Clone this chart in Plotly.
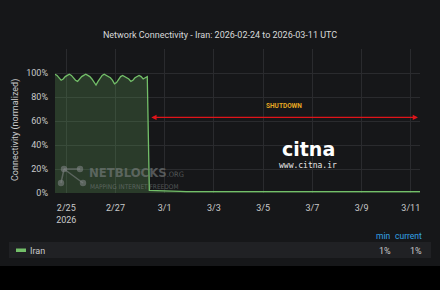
import pandas as pd
import plotly.graph_objects as go

# ---------------- data ----------------
pre_start = "2026-02-24 13:00"
pre_values = [99, 98, 96, 94, 95, 97, 98, 99, 98, 96, 94, 93, 95, 97, 98, 99,
              98, 97, 95, 92, 90, 93, 96, 98, 99, 98, 97, 96, 94, 91, 92, 95,
              97, 98, 97, 96, 95, 93, 94, 96, 97, 98, 97, 95, 96, 97]
post_start = "2026-02-28 09:00"
post_values = [2.2, 1.9, 1.7, 1.5, 1.4, 1.3, 1.2, 1.2, 1.1, 1.0, 1.1, 1.2,
               1.0, 0.9, 1.0, 1.1, 1.0, 1.2, 1.1, 1.0, 1.0, 1.1, 0.9, 1.0,
               1.1, 1.0, 1.0, 1.1, 1.2, 1.0, 0.9, 1.0, 1.1, 1.0, 1.0, 1.1,
               1.0, 1.2, 1.1, 1.0, 1.1, 1.2, 1.3, 1.2, 1.2]
series_name = "Iran"
tick_dates = ["2026-02-25", "2026-02-27", "2026-03-01", "2026-03-03",
              "2026-03-05", "2026-03-07", "2026-03-09", "2026-03-11"]
tick_labels = ["2/25<br>2026", "2/27", "3/1", "3/3", "3/5", "3/7", "3/9", "3/11"]
y_ticks = [0, 20, 40, 60, 80, 100, 120]
y_labels = ["0%", "20%", "40%", "60%", "80%", "100%", ""]
title = "Network Connectivity - Iran: 2026-02-24 to 2026-03-11 UTC"
shutdown_start = "2026-02-28 09:30"
shutdown_end = "2026-03-11 07:00"
shutdown_level = 63
shutdown_label_x = "2026-03-05 20:00"
shutdown_label_y = 72.5

times = list(pd.date_range(pre_start, periods=len(pre_values), freq="2h")) + \
        list(pd.date_range(post_start, periods=len(post_values), freq="6h"))
values = pre_values + post_values

# ---------------- layout helpers ----------------
W, H = 440, 290
ML, MR, MT, MB = 55, 20, 49, 97
PW, PH = W - ML - MR, H - MT - MB


def px(x):
    return (x - ML) / PW


def py(y):
    return (H - MB - y) / PH


BG = "#161719"
GREEN = "#73bf69"
TXT = "#c8c9ca"
FONT = "Roboto, Inter, sans-serif"
COND = "DejaVu Sans Condensed, DejaVu Sans, sans-serif"

fig = go.Figure()
fig.add_trace(go.Scatter(
    x=times, y=values, mode="lines", name=series_name,
    line=dict(color=GREEN, width=1.3),
    fill="tozeroy", fillcolor="rgba(115,191,105,0.22)",
    hoverinfo="skip", showlegend=False,
))

shapes = []
annotations = []

# bottom black band
shapes.append(dict(type="rect", xref="paper", yref="paper",
                   x0=px(-5), x1=px(W + 5), y0=py(266), y1=py(H + 5),
                   fillcolor="#000000", line=dict(width=0), layer="below"))
# legend bar background
shapes.append(dict(type="rect", xref="paper", yref="paper",
                   x0=px(9), x1=px(431), y0=py(258), y1=py(242),
                   fillcolor="#202124", line=dict(width=0), layer="below"))
# legend swatch
shapes.append(dict(type="rect", xref="paper", yref="paper",
                   x0=px(16), x1=px(26), y0=py(252), y1=py(248.5),
                   fillcolor=GREEN, line=dict(width=0)))

# NetBlocks watermark icon
wm = "rgba(125,130,130,0.6)"
nodes = [(64, 169), (80, 169), (61, 183), (83, 183)]
for (a, b) in [(0, 1), (0, 2), (0, 3)]:
    shapes.append(dict(type="line", xref="paper", yref="paper",
                       x0=px(nodes[a][0]), y0=py(nodes[a][1]),
                       x1=px(nodes[b][0]), y1=py(nodes[b][1]),
                       line=dict(color=wm, width=1.5)))
for (cx, cy) in nodes:
    r = 3.2
    shapes.append(dict(type="circle", xref="paper", yref="paper",
                       x0=px(cx - r), x1=px(cx + r), y0=py(cy + r), y1=py(cy - r),
                       fillcolor=wm, line=dict(width=0)))

annotations.append(dict(text="<b>NETBLOCKS</b><span style='font-size:7.5px'>.ORG</span>",
                        xref="paper", yref="paper",
                        x=px(87), y=py(172), xanchor="left", yanchor="middle",
                        showarrow=False, font=dict(family=COND, size=13, color=wm)))
annotations.append(dict(text="MAPPING INTERNET FREEDOM", xref="paper", yref="paper",
                        x=px(88), y=py(186.5), xanchor="left", yanchor="middle",
                        showarrow=False, font=dict(family=COND, size=6.5, color=wm)))

# citna logo
annotations.append(dict(text="<b>citna</b>", xref="paper", yref="paper",
                        x=px(308), y=py(149), xanchor="center", yanchor="middle",
                        showarrow=False,
                        font=dict(family="DejaVu Sans, sans-serif", size=19, color="#ffffff")))
annotations.append(dict(text="www.citna.ir", xref="paper", yref="paper",
                        x=px(308), y=py(165), xanchor="center", yanchor="middle",
                        showarrow=False,
                        font=dict(family="DejaVu Sans Mono, monospace", size=8, color="#e8e8e8")))

# shutdown arrow + label
annotations.append(dict(x=shutdown_end, y=shutdown_level, ax=shutdown_start, ay=shutdown_level,
                        xref="x", yref="y", axref="x", ayref="y", text="",
                        showarrow=True, arrowhead=2, arrowside="end+start",
                        arrowsize=0.8, arrowwidth=1.3, arrowcolor="#e0141a"))
annotations.append(dict(x=shutdown_label_x, y=shutdown_label_y, xref="x", yref="y",
                        text="<b>SHUTDOWN</b>", showarrow=False,
                        font=dict(family=FONT, size=6.5, color="#e5a823")))

# y-axis title
annotations.append(dict(text="Connectivity (normalized)", xref="paper", yref="paper",
                        x=px(15), y=py(130), textangle=-90, showarrow=False,
                        xanchor="center", yanchor="middle",
                        font=dict(family=FONT, size=9, color=TXT)))

# legend texts
vmin = min(values)
vcur = values[-1]
annotations.append(dict(text=series_name, xref="paper", yref="paper",
                        x=px(28), y=py(250.5), xanchor="left", yanchor="middle",
                        showarrow=False, font=dict(family=FONT, size=9, color=TXT)))
for label, val, xr in [("min", vmin, 393), ("current", vcur, 424)]:
    annotations.append(dict(text=label, xref="paper", yref="paper",
                            x=px(xr), y=py(236), xanchor="right", yanchor="middle",
                            showarrow=False, font=dict(family=FONT, size=8.5, color="#33a2e5")))
    annotations.append(dict(text=f"{round(val)}%", xref="paper", yref="paper",
                            x=px(xr), y=py(250.5), xanchor="right", yanchor="middle",
                            showarrow=False, font=dict(family=FONT, size=9, color=TXT)))

fig.update_layout(
    width=W, height=H,
    margin=dict(l=ML, r=MR, t=MT, b=MB, pad=0),
    paper_bgcolor=BG, plot_bgcolor=BG,
    title=dict(text=title, x=0.5, xref="container", xanchor="center",
               y=1 - 35 / H, yref="container", yanchor="middle",
               font=dict(family=FONT, size=9, color="#d8d9da")),
    font=dict(family=FONT, color=TXT, size=9),
    shapes=shapes, annotations=annotations,
    showlegend=False,
    xaxis=dict(range=["2026-02-24 13:00", "2026-03-11 09:00"], type="date",
               tickvals=tick_dates, ticktext=tick_labels,
               showgrid=True, gridcolor="#2a2b2e", gridwidth=1,
               zeroline=False, showline=False, ticks="", ticklabelstandoff=8,
               tickfont=dict(size=9, color=TXT)),
    yaxis=dict(range=[0, 120], tickvals=y_ticks, ticktext=y_labels,
               showgrid=True, gridcolor="#2a2b2e", gridwidth=1,
               zeroline=False, showline=False, ticks="", ticklabelstandoff=6,
               tickfont=dict(size=9, color=TXT)),
)

fig.write_html("out.html")
